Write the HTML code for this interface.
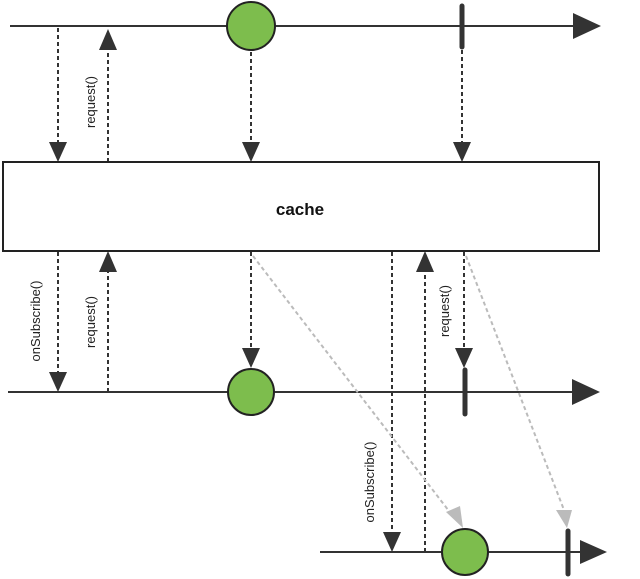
<!DOCTYPE html>
<html><head><style>body{margin:0;background:#fff}svg{display:block}</style></head><body>
<svg width="640" height="579" viewBox="0 0 640 579" xmlns="http://www.w3.org/2000/svg" font-family="'Liberation Sans',sans-serif">
<g stroke="#333" stroke-width="2" fill="none">
<line x1="10" y1="26" x2="575" y2="26"/>
<line x1="8" y1="392" x2="575" y2="392"/>
<line x1="320" y1="552" x2="585" y2="552"/>
</g>
<g fill="#333">
<path d="M573,13 L601,26 L573,39z"/>
<path d="M572,379 L600,392 L572,405z"/>
<path d="M580,540 L607,552 L580,564z"/>
</g>
<g stroke="#333" stroke-width="2" stroke-dasharray="4,3">
<line x1="58" y1="28" x2="58" y2="142"/>
<line x1="108" y1="162" x2="108" y2="50"/>
<line x1="251" y1="52" x2="251" y2="142"/>
<line x1="462" y1="50" x2="462" y2="142"/>
<line x1="58" y1="252" x2="58" y2="372"/>
<line x1="108" y1="392" x2="108" y2="272"/>
<line x1="251" y1="252" x2="251" y2="348"/>
<line x1="464" y1="252" x2="464" y2="348"/>
<line x1="392" y1="252" x2="392" y2="532"/>
<line x1="425" y1="552" x2="425" y2="272"/>
</g>
<g fill="#333">
<path d="M49,142 L67,142 L58,162z"/>
<path d="M99,50 L117,50 L108,29z"/>
<path d="M242,142 L260,142 L251,162z"/>
<path d="M453,142 L471,142 L462,162z"/>
<path d="M49,372 L67,372 L58,392z"/>
<path d="M99,272 L117,272 L108,251z"/>
<path d="M242,348 L260,348 L251,368z"/>
<path d="M455,348 L473,348 L464,368z"/>
<path d="M383,532 L401,532 L392,552z"/>
<path d="M416,272 L434,272 L425,251z"/>
</g>
<g stroke="#bbb" stroke-width="2" stroke-dasharray="4,3">
<line x1="253" y1="256" x2="452" y2="515"/>
<line x1="466" y1="256" x2="564" y2="510"/>
</g>
<path d="M446,512 L460,506 L463,528z" fill="#bbb"/>
<path d="M556,510 L572,510 L567,528z" fill="#bbb"/>
<rect x="3" y="162" width="596" height="89" fill="#fff" stroke="#222" stroke-width="2"/>
<text x="300" y="215" font-size="17" font-weight="bold" text-anchor="middle" fill="#111">cache</text>
<g fill="#7dbd4d" stroke="#222" stroke-width="2">
<circle cx="251" cy="26" r="24"/>
<circle cx="251" cy="392" r="23"/>
<circle cx="465" cy="552" r="23"/>
</g>
<g stroke="#333" stroke-width="5" stroke-linecap="round">
<line x1="462" y1="6" x2="462" y2="47"/>
<line x1="465" y1="370" x2="465" y2="414"/>
<line x1="568" y1="531" x2="568" y2="574"/>
</g>
<g font-size="13" fill="#222">
<text transform="translate(95,102) rotate(-90)" text-anchor="middle">request()</text>
<text transform="translate(40,321) rotate(-90)" text-anchor="middle">onSubscribe()</text>
<text transform="translate(95,322) rotate(-90)" text-anchor="middle">request()</text>
<text transform="translate(449,311) rotate(-90)" text-anchor="middle">request()</text>
<text transform="translate(374,482) rotate(-90)" text-anchor="middle">onSubscribe()</text>
</g>
</svg>
</body></html>
